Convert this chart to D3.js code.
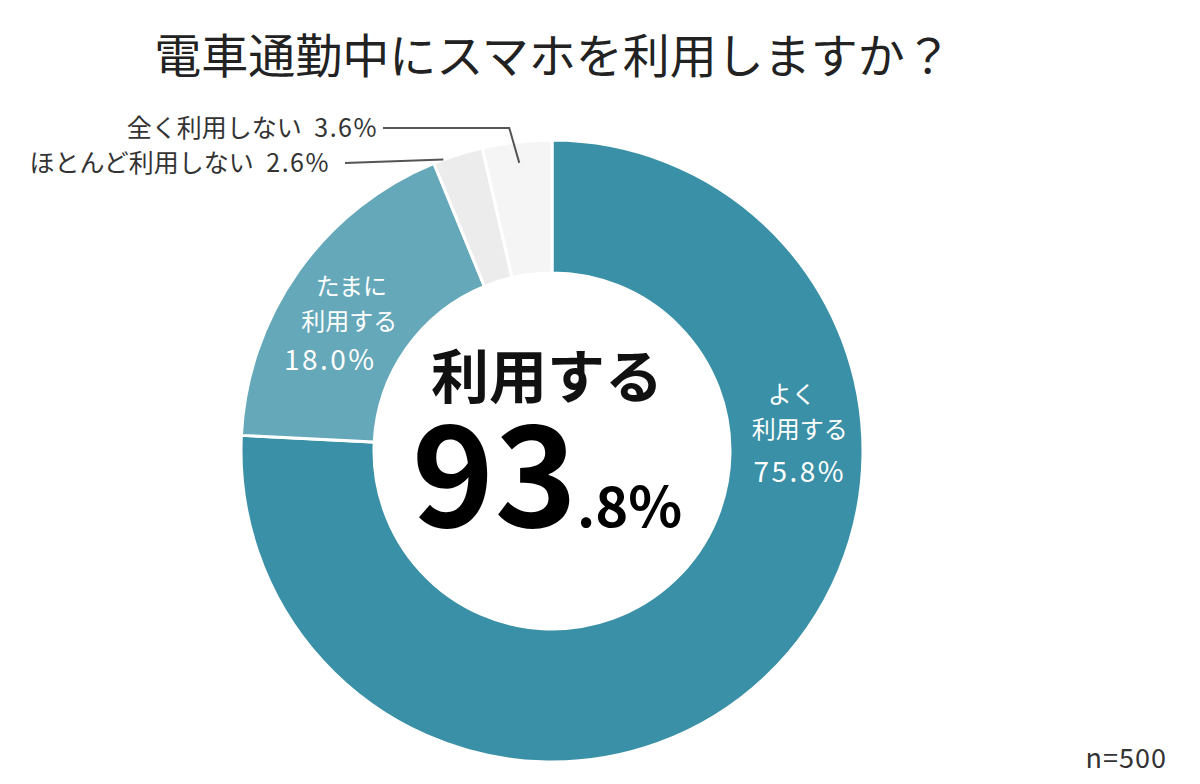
<!DOCTYPE html>
<html>
<head>
<meta charset="utf-8">
<script src="https://cdn.jsdelivr.net/npm/d3@7"></script>
<style>
  body { margin: 0; background: #fff; }
  text { font-family: "Noto Sans CJK JP", "Noto Sans", sans-serif; }
</style>
</head>
<body>
<div id="chart"></div>
<script>
// data
var categories = ['よく利用する', 'たまに利用する', 'ほとんど利用しない', '全く利用しない'];
var values = [75.8, 18.0, 2.6, 3.6];
var sliceColors = ['#3a90a6', '#64a8b9', '#ececec', '#f5f5f5'];
var titleText = '電車通勤中にスマホを利用しますか？';
var totalUse = '93.8';
var sampleText = 'n=500';

var width = 1200, height = 784;
var cx = 552, cy = 451,
    outerR = 311, innerR = 178;

var svg = d3.select('#chart').append('svg')
  .attr('width', width)
  .attr('height', height);

svg.append('text')
  .attr('x', 553)
  .attr('y', 73)
  .attr('text-anchor', 'middle')
  .attr('font-size', '47px')
  .attr('font-weight', 400)
  .style('fill', '#222')
  .text(titleText);

var data = categories.map(function(c, i){ return {name: c, value: values[i]}; });

var pie = d3.pie().sort(null).value(function(d){ return d.value; });
var arcs = pie(data);
var arc = d3.arc().innerRadius(innerR).outerRadius(outerR);

var g = svg.append('g')
  .attr('transform', 'translate(' + cx + ',' + cy + ')');

g.selectAll('path.slice')
  .data(arcs)
  .enter().append('path')
  .attr('class', 'slice')
  .attr('d', arc)
  .style('fill', function(d, i){ return sliceColors[i]; })
  .style('stroke', '#fff')
  .style('stroke-width', '3px');

// point on the ring at angle a (radians from 12 o'clock) and radius r
function ringPoint(a, r){
  return [r * Math.sin(a), -r * Math.cos(a)];
}

// labels inside the two teal slices
var innerLabels = [
  {slice: 0, angle: 87.5, r: 248, lines: [['よく', -8, -37], ['利用する', 0, -2], [values[0].toFixed(1) + '%', 0, 42]]},
  {slice: 1, angle: 300.8, r: 236, lines: [['たまに', 2, -35], ['利用する', 0, 0], [values[1].toFixed(1) + '%', -19, 40]]}
];

innerLabels.forEach(function(lab){
  var p = ringPoint(lab.angle * Math.PI / 180, lab.r);
  lab.lines.forEach(function(l, j){
    g.append('text')
      .attr('x', p[0] + l[1])
      .attr('y', p[1] + l[2])
      .attr('text-anchor', 'middle')
      .attr('font-size', j == 2 ? '28px' : '24px')
      .style('letter-spacing', j == 2 ? '2.5px' : '0px')
      .style('fill', '#fff')
      .text(l[0]);
  });
});

// outer labels with leader lines for the small slices
var a2 = arcs[2], a3 = arcs[3];
var end2 = ringPoint(a2.startAngle + 0.2 * (a2.endAngle - a2.startAngle), outerR);
var end3 = ringPoint((a3.startAngle + a3.endAngle) / 2, 290);

var outerLabels = [
  {slice: 3, y: -323, textX: -174, fontSize: 25,
   points: [[-169, -323], [end3[0] - 10, -323], end3]},
  {slice: 2, y: -288, textX: -222, fontSize: 25,
   points: [[-207, -288], end2]}
];

outerLabels.forEach(function(lab){
  var t = g.append('text')
    .attr('x', lab.textX)
    .attr('y', lab.y + 9)
    .attr('text-anchor', 'end')
    .attr('font-size', lab.fontSize + 'px')
    .style('fill', '#333');
  t.append('tspan').text(categories[lab.slice] + '\u2002');
  t.append('tspan')
    .style('letter-spacing', '1.5px')
    .text(values[lab.slice].toFixed(1) + '%');

  g.append('path')
    .attr('d', d3.line()(lab.points))
    .attr('fill', 'none')
    .style('stroke', '#555')
    .style('stroke-width', '2px');
});

// centre text
svg.append('text')
  .attr('x', 547)
  .attr('y', 398)
  .attr('text-anchor', 'middle')
  .attr('font-size', '58px')
  .attr('font-weight', 700)
  .style('fill', '#111')
  .text('利用する');

var big = svg.append('text')
  .attr('x', 547)
  .attr('y', 527)
  .attr('text-anchor', 'middle')
  .attr('font-weight', 700)
  .style('fill', '#000');
big.append('tspan')
  .attr('font-size', '140px')
  .text(totalUse.split('.')[0]);
big.append('tspan')
  .attr('font-size', '56px')
  .text('.' + totalUse.split('.')[1] + '%');

svg.append('text')
  .attr('x', 1167)
  .attr('y', 768)
  .attr('text-anchor', 'end')
  .attr('font-size', '27px')
  .style('letter-spacing', '1px')
  .style('fill', '#333')
  .text(sampleText);
</script>
</body>
</html>
